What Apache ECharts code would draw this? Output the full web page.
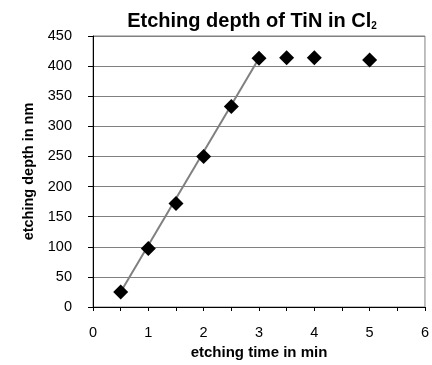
<!DOCTYPE html>
<html>
<head>
<meta charset="utf-8">
<script src="https://cdn.jsdelivr.net/npm/echarts@6/dist/echarts.min.js"></script>
<style>
  html, body { margin: 0; padding: 0; background: #fff; }
  #chart { width: 432px; height: 365px; }
</style>
</head>
<body>
<div id="chart"></div>
<script>
// measured points
const times = [0.5, 1, 1.5, 2, 2.5, 3, 3.5, 4, 5];
const depths = [25, 97, 172, 250, 333, 413, 414, 414, 410];
// linear trend over the etching phase
const fitTimes = [0.5, 3];
const fitDepths = [25, 413];

const chart = echarts.init(document.getElementById('chart'));
const font = 'Liberation Sans, Arial, sans-serif';

const option = {
  backgroundColor: '#fff',
  animation: false,
  title: {
    text: '{m|Etching depth of TiN in Cl}{s|2}',
    left: 247,
    textAlign: 'center',
    top: 6,
    textStyle: {
      rich: {
        m: { fontFamily: font, fontWeight: 'bold', fontSize: 20, color: '#000' },
        s: { fontFamily: font, fontWeight: 'bold', fontSize: 10, color: '#000', padding: [10, 0, 0, 0] }
      }
    }
  },
  grid: {
    left: 93, right: 3, top: 36, bottom: 55,
    show: true, borderColor: '#808080', borderWidth: 1
  },
  xAxis: {
    type: 'value',
    min: 0, max: 6, interval: 1,
    name: 'etching time in min',
    nameLocation: 'middle',
    nameGap: 38,
    nameTextStyle: { fontFamily: font, fontWeight: 'bold', fontSize: 15, color: '#000' },
    axisLine: { lineStyle: { color: '#000', width: 1 } },
    axisTick: { show: true, length: 4, lineStyle: { color: '#000' } },
    minorTick: { show: true, splitNumber: 2, length: 4, lineStyle: { color: '#000' } },
    axisLabel: { fontFamily: font, fontSize: 14.5, color: '#000', margin: 18 },
    splitLine: { show: false }
  },
  yAxis: {
    type: 'value',
    min: 0, max: 450, interval: 50,
    name: 'etching depth in nm',
    nameLocation: 'middle',
    nameGap: 57,
    nameTextStyle: { fontFamily: font, fontWeight: 'bold', fontSize: 14.5, color: '#000' },
    axisLine: { show: true, lineStyle: { color: '#000', width: 1 } },
    axisTick: { show: true, length: 5, lineStyle: { color: '#000' } },
    axisLabel: { fontFamily: font, fontSize: 14.5, color: '#000', margin: 21 },
    splitLine: { show: true, lineStyle: { color: '#808080', width: 1 } }
  },
  series: [
    {
      type: 'line',
      data: fitTimes.map((t, i) => [t, fitDepths[i]]),
      symbol: 'none',
      lineStyle: { color: '#808080', width: 2 },
      z: 2
    },
    {
      type: 'scatter',
      data: times.map((t, i) => [t, depths[i]]),
      symbol: 'diamond',
      symbolSize: [15, 15],
      itemStyle: { color: '#000', opacity: 1 },
      z: 3
    }
  ]
};

chart.setOption(option);
</script>
</body>
</html>
